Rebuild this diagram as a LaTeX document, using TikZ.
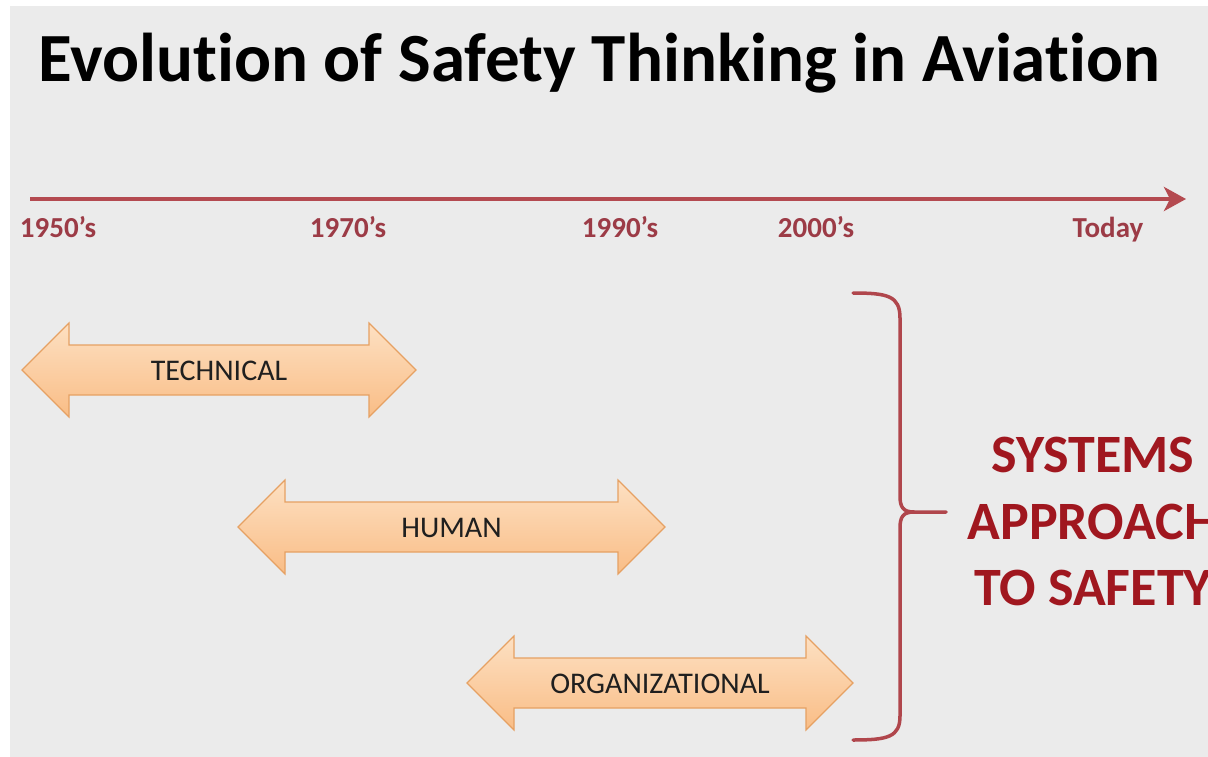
\documentclass[tikz,border=0pt]{standalone}
\usepackage{fontspec}
\setmainfont[Ligatures=NoCommon]{Carlito}
\usetikzlibrary{arrows.meta}

\definecolor{bg}{HTML}{EBEBEB}
\definecolor{timeline}{HTML}{B44A50}
\definecolor{yearred}{HTML}{9C3B46}
\definecolor{bracered}{HTML}{B0464C}
\definecolor{sysred}{HTML}{A0171F}
\definecolor{peachtop}{HTML}{FDE0C2}
\definecolor{peachbot}{HTML}{F9BD86}
\definecolor{peachedge}{HTML}{E6A163}

\tikzset{
  title/.style={font=\fontsize{69}{80}\selectfont\bfseries, text=black, anchor=base west, inner sep=0pt},
  year/.style={font=\fontsize{29}{34}\selectfont\bfseries, text=yearred, anchor=base, inner sep=0pt},
  phase/.style={font=\fontsize{30}{34}\selectfont, text=black!88, anchor=base, inner sep=0pt},
  peach/.style={draw=peachedge, line width=1.2pt, top color=peachtop, bottom color=peachbot, line join=miter},
  sysline/.style={font=\fontsize{54}{66}\selectfont\bfseries, text=sysred, anchor=base, inner sep=0pt},
  axis/.style={draw=timeline, line width=4pt, -{Stealth[length=22pt,width=24pt,inset=6pt]}},
  bracket/.style={draw=bracered, line width=3.5pt, line cap=round, line join=round},
}

% double-headed band: name, left tip x, right tip x, centre y, label
\newcommand\spanarrow[5]{%
  \path[peach] (#2,#4) -- (#2+47,#4-47) -- (#2+47,#4-25) -- (#3-47,#4-25)
    -- (#3-47,#4-47) -- (#3,#4) -- (#3-47,#4+47) -- (#3-47,#4+25)
    -- (#2+47,#4+25) -- (#2+47,#4+47) -- cycle;
  \node[phase] (#1) at ({(#2+#3)/2},#4+10) {#5};
}

\begin{document}
\begin{tikzpicture}[x=1pt,y=-1pt]
  \useasboundingbox (0,0) rectangle (1208,757);
  \clip (0,0) rectangle (1208,757);
  \fill[white] (0,0) rectangle (1208,757);
  \fill[bg] (10,6) rectangle (1208,757);

  % heading
  \node[title] (head) at (38,82) {Evolution of Safety Thinking in Aviation};

  % time axis
  \coordinate (axisstart) at (30,199);
  \coordinate (axisend) at (1186,199);
  \draw[axis] (axisstart) -- (axisend);

  \node[year] (y1950) at (58,237) {1950’s};
  \node[year] (y1970) at (348,237) {1970’s};
  \node[year] (y1990) at (620,237) {1990’s};
  \node[year] (y2000) at (816,237) {2000’s};
  \node[year] (ytoday) at (1108,237) {Today};

  % eras
  \spanarrow{technical}{22}{416}{370}{TECHNICAL}
  \spanarrow{human}{238}{665}{527}{HUMAN}
  \spanarrow{organizational}{467}{853}{683}{ORGANIZATIONAL}

  % brace gathering the eras
  \coordinate (bracetop) at (853,293);
  \coordinate (bracetip) at (946,512);
  \coordinate (bracebot) at (853,740);
  \draw[bracket] (bracetop) .. controls (888,293) and (900,296) .. (900,318)
    -- (900,496) .. controls (900,507) and (903,512) .. (914,512) -- (bracetip);
  \draw[bracket] (914,512) .. controls (903,512) and (900,517) .. (900,528)
    -- (900,716) .. controls (900,737) and (888,740) .. (bracebot);

  % outcome, running off the right-hand edge
  \node[sysline] (sys1) at (1093,472) {SYSTEMS};
  \node[sysline] (sys2) at (1093,539) {APPROACH};
  \node[sysline] (sys3) at (1093,605) {TO SAFETY};
\end{tikzpicture}
\end{document}
